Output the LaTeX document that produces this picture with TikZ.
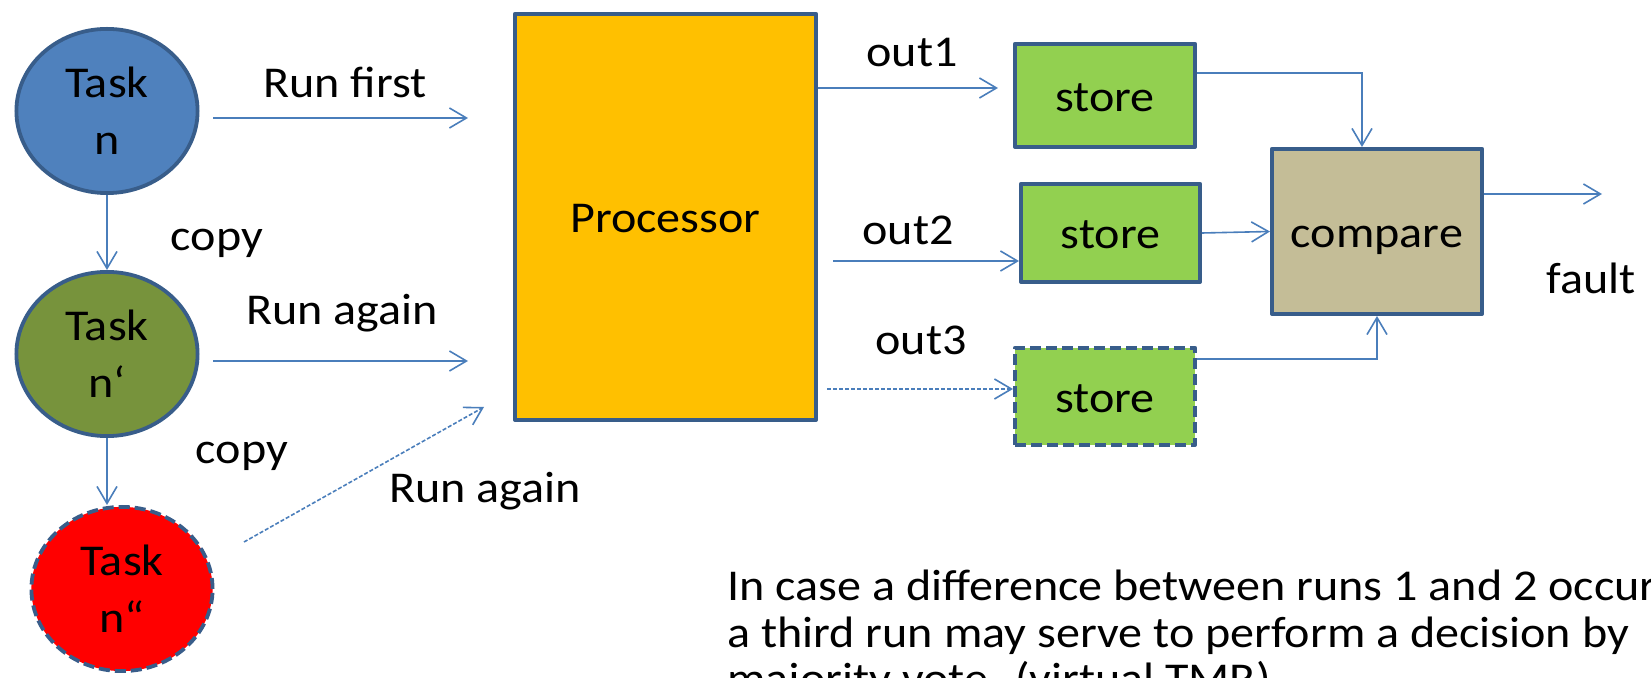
\documentclass[tikz,border=0pt]{standalone}
\usepackage{fontspec}
\setmainfont{Carlito}[FakeStretch=1.093]
\usetikzlibrary{arrows.meta,shapes.geometric}
\definecolor{edge}{HTML}{385D8A}
\definecolor{wire}{HTML}{4A7EBB}
\definecolor{taskblue}{HTML}{4F81BD}
\definecolor{taskgreen}{HTML}{77933C}
\definecolor{taskred}{HTML}{FF0000}
\definecolor{procfill}{HTML}{FFC000}
\definecolor{storefill}{HTML}{92D050}
\definecolor{cmpfill}{HTML}{C4BD97}

\begin{document}
\begin{tikzpicture}[x=0.5pt,y=-0.5pt,
  every node/.style={font=\fontsize{22pt}{28.5pt}\selectfont, text=black},
  task/.style={ellipse, draw=edge, line width=1.9pt, minimum width=90.6pt,
    minimum height=82.1pt, align=center, inner sep=0pt},
  block/.style={rectangle, draw=edge, line width=1.9pt, line join=round,
    text height=20pt, text depth=4pt, inner sep=0pt},
  dashedborder/.style={dash pattern=on 5.5pt off 2.5pt},
  conn/.style={draw=wire, line width=0.8pt,
    -{Straight Barb[length=8.5pt,width=10pt]}},
  dconn/.style={conn, dash pattern=on 2pt off 1pt},
  lbl/.style={anchor=base, inner sep=0pt},
  note/.style={anchor=base west, inner sep=0pt},
]
\useasboundingbox (0,0) rectangle (1651,678);

% tasks
\node[task, fill=taskblue]  (tn)  at (107,111) {Task\\n};
\node[task, fill=taskgreen] (tn1) at (107,354) {Task\\n‘};
\node[task, fill=taskred, dashedborder] (tn2) at (122,589) {Task\\n“};

% processor, stores, comparator
\node[block, fill=procfill, minimum width=150.6pt, minimum height=203.1pt] (proc) at (665.5,217) {Processor};
\node[block, fill=storefill, minimum width=90.1pt, minimum height=51.6pt] (s1) at (1105,95.5) {store};
\node[block, fill=storefill, minimum width=89.6pt, minimum height=49.1pt] (s2) at (1110.5,233) {store};
\node[block, fill=storefill, dashedborder, minimum width=90.1pt, minimum height=48.6pt] (s3) at (1105,396.5) {store};
\node[block, fill=cmpfill, minimum width=105.1pt, minimum height=82.6pt] (cmp) at (1377,231.5) {compare};

% labels
\node[lbl] (lfirst)  at (345,98)  {Run first};
\node[lbl] (lcopyA)  at (217,251) {copy};
\node[lbl] (lagainA) at (342,325) {Run again};
\node[lbl] (lcopyB)  at (242,464) {copy};
\node[lbl] (lagainB) at (485,503) {Run again};
\node[lbl] (lout1)   at (912,67)  {out1};
\node[lbl] (lout2)   at (908,245) {out2};
\node[lbl] (lout3)   at (921,355) {out3};
\node[lbl] (lfault)  at (1591,294) {fault};

% free connector ends
\coordinate (rf0) at (213,118);  \coordinate (rf1) at (468,118);
\coordinate (ra0) at (213,361);  \coordinate (ra1) at (468,361);
\coordinate (rb0) at (244,542);  \coordinate (rb1) at (484,407);
\coordinate (o1end) at (998,88);
\coordinate (o2start) at (833,261);
\coordinate (o3start) at (827,389);
\coordinate (fend) at (1602,194);

% connectors
\draw[conn]  (rf0) -- (rf1);
\draw[conn]  (ra0) -- (ra1);
\draw[dconn] (rb0) -- (rb1);
\draw[conn]  (tn.south) -- (tn1.north);
\draw[conn]  (tn1.south) -- (tn1.south |- tn2.north);
\draw[conn]  (proc.east |- o1end) -- (o1end);
\draw[conn]  (o2start) -- (s2.west |- o2start);
\draw[dconn] (o3start) -- (s3.west |- o3start);
\draw[conn]  (s1.east |- 0,73) -| ([xshift=-7.5pt]cmp.north);
\draw[conn]  (s2.east) -- (cmp.west);
\draw[conn]  (s3.east |- 0,359) -| (cmp.south);
\draw[conn]  (cmp.east |- fend) -- (fend);

% note
\node[note] (note1) at (727,601) {In case a difference between runs 1 and 2 occur};
\node[note] (note2) at (727,647) {a third run may serve to perform a decision by};
\node[note] (note3) at (727,694) {majority vote. (virtual TMR)};
\end{tikzpicture}
\end{document}
